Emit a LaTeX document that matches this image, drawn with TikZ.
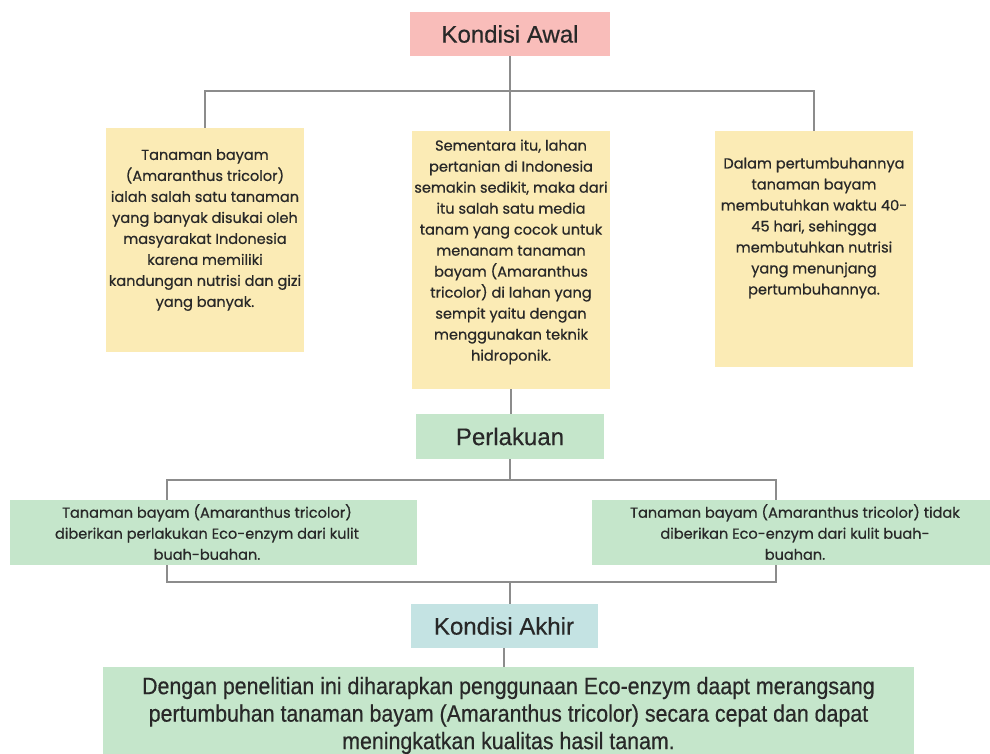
\documentclass[tikz,border=0pt]{standalone}
\usepackage{fontspec}
\setmainfont{Liberation Sans}
\newfontfamily\boxfont[FakeBold=0.6]{Poppins}
\newfontfamily\headfont[FakeBold=0.4]{Liberation Sans}
\newfontfamily\narrowfont[FakeStretch=0.9,FakeBold=0.5]{Liberation Sans}
\definecolor{pinkawal}{RGB}{249,189,186}
\definecolor{kuning}{RGB}{251,235,181}
\definecolor{hijau}{RGB}{197,230,203}
\definecolor{biru}{RGB}{196,227,227}
\definecolor{garis}{RGB}{140,140,140}
\definecolor{tinta}{RGB}{40,40,40}
\tikzset{
  judul/.style={inner sep=0pt, text=tinta, font=\headfont\fontsize{18}{20}\selectfont},
  kotak/.style={inner sep=0pt, fill=kuning},
  isi/.style={inner sep=0pt, align=center, text=tinta, font=\boxfont\fontsize{10.9}{15.75}\selectfont},
  link/.style={draw=garis, line width=1.5pt}
}
\begin{document}
\begin{tikzpicture}[x=0.75pt,y=0.75pt,yscale=-1,xscale=1]
\useasboundingbox (0,0) rectangle (990,754);

% bracket under the treatment boxes
\coordinate (kurungA) at (167,480);
\coordinate (kurungB) at (776,582);
\draw[link] (kurungA) rectangle (kurungB);

% Kondisi Awal
\node (awal) [judul, fill=pinkawal, minimum width=150pt, minimum height=33pt] at (510,34) {Kondisi Awal};
\coordinate (atas) at (510,91);

% three yellow notes
\node (kiri) [kotak, minimum width=148.5pt, minimum height=168pt] at (205,240) {};
\node (kiriteks) [isi] at (205,230) {Tanaman bayam\\(Amaranthus tricolor)\\ialah salah satu tanaman\\yang banyak disukai oleh\\masyarakat Indonesia\\karena memiliki\\kandungan nutrisi dan gizi\\yang banyak.};

\node (tengah) [kotak, minimum width=148.5pt, minimum height=193.5pt] at (511,260) {};
\node (tengahteks) [isi] at (511,252) {Sementara itu, lahan\\pertanian di Indonesia\\semakin sedikit, maka dari\\itu salah satu media\\tanam yang cocok untuk\\menanam tanaman\\bayam (Amaranthus\\tricolor) di lahan yang\\sempit yaitu dengan\\menggunakan teknik\\hidroponik.};

\node (kanan) [kotak, minimum width=148.5pt, minimum height=177pt] at (814,249) {};
\node (kananteks) [isi] at (814,228) {Dalam pertumbuhannya\\tanaman bayam\\membutuhkan waktu 40-\\45 hari, sehingga\\membutuhkan nutrisi\\yang menunjang\\pertumbuhannya.};

% Perlakuan
\node (perlakuan) [judul, fill=hijau, minimum width=141pt, minimum height=33.75pt] at (510,436.5) {Perlakuan};

\node (hijaukiri) [kotak, fill=hijau, minimum width=305.25pt, minimum height=48.75pt] at (213.5,532.5) {};
\node (hijaukiriteks) [isi] at (207,532) {Tanaman bayam (Amaranthus tricolor)\\diberikan perlakukan Eco-enzym dari kulit\\buah-buahan.};

\node (hijaukanan) [kotak, fill=hijau, minimum width=298.5pt, minimum height=48.75pt] at (791,532.5) {};
\node (hijaukananteks) [isi] at (795,532) {Tanaman bayam (Amaranthus tricolor) tidak\\diberikan Eco-enzym dari kulit buah-\\buahan.};

% Kondisi Akhir
\node (akhir) [judul, fill=biru, minimum width=140.25pt, minimum height=33pt] at (504,626) {Kondisi Akhir};

\node (hasil) [kotak, fill=hijau, minimum width=608.25pt, minimum height=84.75pt] at (508.5,723.5) {};
\node (hasilteks) [isi, font=\narrowfont\fontsize{17.8}{20.6}\selectfont] at (508.5,715.5) {Dengan penelitian ini diharapkan penggunaan Eco-enzym daapt merangsang\\pertumbuhan tanaman bayam (Amaranthus tricolor) secara cepat dan dapat\\meningkatkan kualitas hasil tanam.};

% connectors
\draw[link] (awal.south) -- (awal.south |- tengah.north);
\draw[link] (kiri.north) |- (atas) -| (kanan.north);
\draw[link] (tengah.south) -- (tengah.south |- perlakuan.north);
\draw[link] (perlakuan.south) -- (perlakuan.south |- kurungA);
\draw[link] (perlakuan.south |- kurungB) -- (perlakuan.south |- akhir.north);
\draw[link] (akhir.south) -- (akhir.south |- hasil.north);

\end{tikzpicture}
\end{document}
